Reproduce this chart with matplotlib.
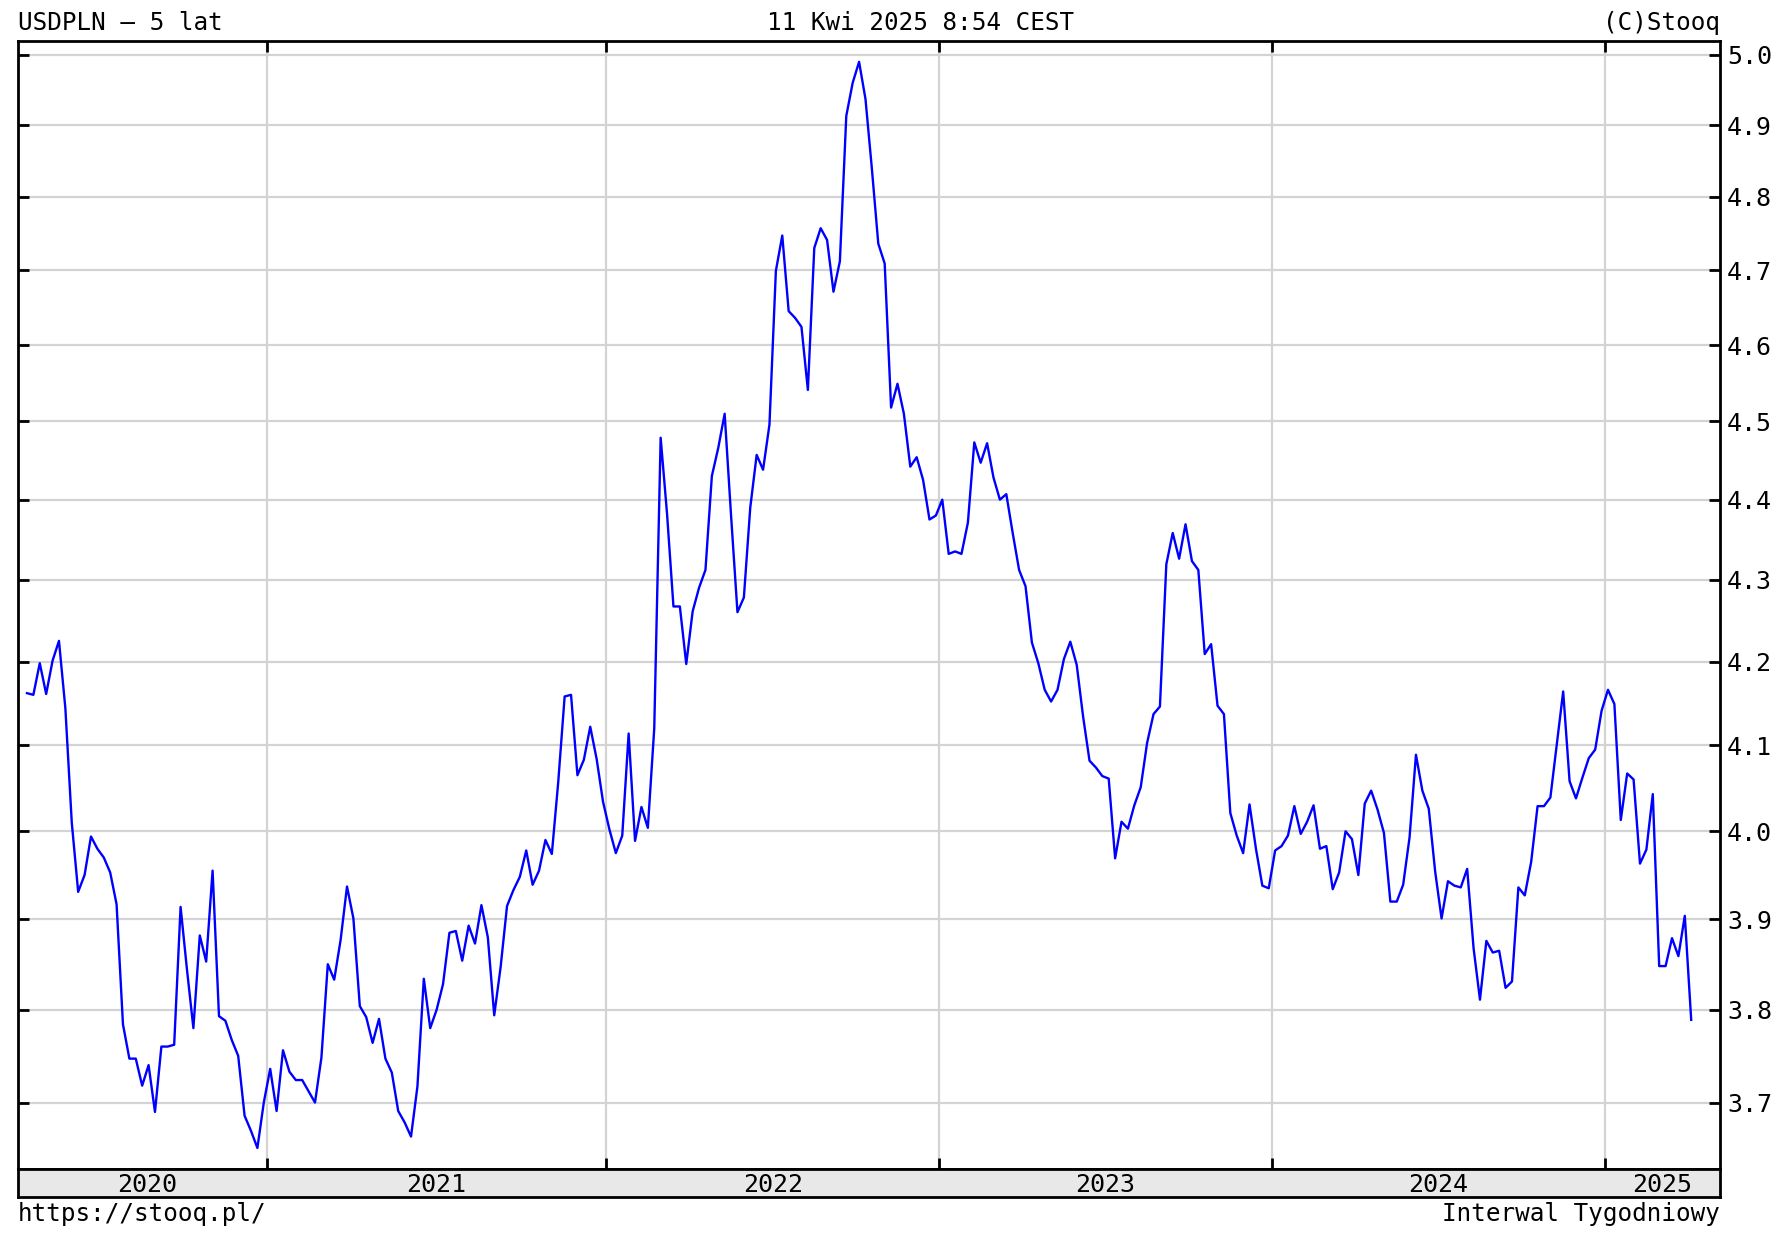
import numpy as np
import pandas as pd
import matplotlib
matplotlib.use('Agg')
import matplotlib.pyplot as plt
from matplotlib.ticker import FixedLocator, FormatStrFormatter, NullLocator

plt.rcParams['font.family'] = ['DejaVu Sans Mono']

# weekly closes USDPLN, Apr 2020 - Apr 2025
dates = pd.date_range('2020-04-17', '2025-04-11', freq='W-FRI')
close = [
    4.162, 4.160, 4.198, 4.161, 4.201, 4.225, 4.144, 4.010, 3.931, 3.950,
    3.994, 3.980, 3.970, 3.953, 3.917, 3.784, 3.747, 3.747, 3.718, 3.740,
    3.690, 3.760, 3.760, 3.762, 3.914, 3.844, 3.780, 3.882, 3.853, 3.955,
    3.793, 3.788, 3.767, 3.750, 3.686, 3.670, 3.652, 3.700, 3.736, 3.691,
    3.756, 3.733, 3.724, 3.724, 3.712, 3.700, 3.748, 3.850, 3.833, 3.877,
    3.937, 3.901, 3.804, 3.792, 3.764, 3.790, 3.747, 3.732, 3.691, 3.679,
    3.664, 3.717, 3.834, 3.780, 3.800, 3.828, 3.885, 3.887, 3.854, 3.893,
    3.873, 3.916, 3.880, 3.794, 3.847, 3.915, 3.933, 3.948, 3.978, 3.939,
    3.955, 3.990, 3.974, 4.057, 4.158, 4.160, 4.065, 4.083, 4.122, 4.084,
    4.034, 4.002, 3.975, 3.995, 4.114, 3.989, 4.028, 4.004, 4.120, 4.479,
    4.382, 4.267, 4.267, 4.197, 4.261, 4.290, 4.312, 4.430, 4.466, 4.510,
    4.380, 4.260, 4.278, 4.390, 4.457, 4.438, 4.496, 4.699, 4.747, 4.645,
    4.636, 4.624, 4.541, 4.730, 4.757, 4.741, 4.671, 4.712, 4.913, 4.960,
    4.990, 4.937, 4.839, 4.736, 4.709, 4.518, 4.549, 4.510, 4.442, 4.454,
    4.425, 4.375, 4.380, 4.400, 4.332, 4.335, 4.332, 4.371, 4.473, 4.447,
    4.472, 4.428, 4.400, 4.407, 4.358, 4.312, 4.292, 4.223, 4.198, 4.166,
    4.152, 4.166, 4.203, 4.224, 4.196, 4.134, 4.082, 4.074, 4.064, 4.061,
    3.969, 4.011, 4.003, 4.030, 4.051, 4.103, 4.137, 4.146, 4.319, 4.358,
    4.326, 4.369, 4.323, 4.312, 4.209, 4.221, 4.147, 4.137, 4.021, 3.995,
    3.975, 4.031, 3.980, 3.938, 3.935, 3.978, 3.983, 3.995, 4.029, 3.997,
    4.011, 4.030, 3.980, 3.983, 3.934, 3.953, 4.000, 3.991, 3.950, 4.032,
    4.047, 4.025, 3.998, 3.920, 3.920, 3.939, 3.993, 4.089, 4.047, 4.026,
    3.954, 3.901, 3.943, 3.938, 3.936, 3.957, 3.868, 3.811, 3.876, 3.863,
    3.865, 3.824, 3.831, 3.936, 3.927, 3.965, 4.029, 4.029, 4.039, 4.101,
    4.164, 4.058, 4.038, 4.062, 4.085, 4.095, 4.141, 4.166, 4.149, 4.013,
    4.067, 4.060, 3.963, 3.979, 4.043, 3.848, 3.848, 3.879, 3.859, 3.904,
    3.789,
]
yticks = [3.7, 3.8, 3.9, 4.0, 4.1, 4.2, 4.3, 4.4, 4.5, 4.6, 4.7, 4.8, 4.9, 5.0]

idx = np.arange(len(close))
years = dates.year.values
bounds = [i + 0.5 for i in range(1, len(years)) if years[i] != years[i - 1]]

W, H = 1792, 1248
fig = plt.figure(figsize=(W / 100, H / 100), dpi=100)
L, R, T, B, BAND = 18, 1720, 41, 1169, 1197
ax = fig.add_axes([L / W, 1 - B / H, (R - L) / W, (B - T) / H])
band = fig.add_axes([L / W, 1 - BAND / H, (R - L) / W, (BAND - B) / H])

ax.plot(idx, close, color='#0000ff', linewidth=1.7, zorder=3)

ax.set_yscale('log')
ax.set_ylim(3.63, 5.02)
xlim = (-1.4, 264.5)
ax.set_xlim(*xlim)
ax.yaxis.set_major_locator(FixedLocator(yticks))
ax.yaxis.set_major_formatter(FormatStrFormatter('%.1f'))
ax.yaxis.set_minor_locator(NullLocator())
ax.set_xticks(bounds)
ax.set_xticklabels([])
ax.grid(True, color='#d3d3d3', linewidth=1.6, zorder=0)
ax.tick_params(axis='y', which='major', direction='in', left=True, right=True,
               labelleft=False, labelright=True, length=8, width=2,
               labelsize=18, pad=5)
ax.tick_params(axis='x', direction='in', top=True, bottom=True, length=8, width=2)
for s in ax.spines.values():
    s.set_linewidth(2)

# year band
band.set_xlim(*xlim)
band.set_ylim(0, 1)
band.set_facecolor('#e8e8e8')
band.set_xticks([])
band.set_yticks([])
for s in band.spines.values():
    s.set_linewidth(2)
edges = [0] + bounds + [xlim[1]]
for k in range(len(edges) - 1):
    yr = years[int(np.ceil(edges[k]))]
    band.text((edges[k] + edges[k + 1]) / 2, 0.42, str(yr), ha='center', va='center',
              fontsize=18)

fig.text(L / W, 1 - 23 / H, 'USDPLN – 5 lat', ha='left', va='center', fontsize=17.5)
fig.text(921 / W, 1 - 23 / H, '11 Kwi 2025 8:54 CEST', ha='center', va='center', fontsize=17.5)
fig.text(R / W, 1 - 23 / H, '(C)Stooq', ha='right', va='center', fontsize=17.5)
fig.text(L / W, 1 - 1214 / H, 'https://stooq.pl/', ha='left', va='center', fontsize=17.5)
fig.text(R / W, 1 - 1214 / H, 'Interwal Tygodniowy', ha='right', va='center', fontsize=17.5)

fig.savefig('out.png', dpi=100)
